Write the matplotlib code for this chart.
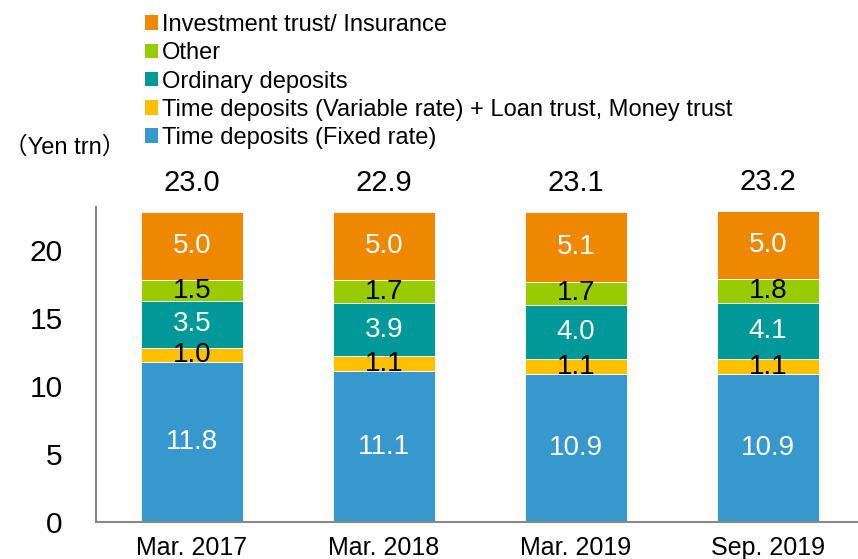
import matplotlib
matplotlib.use("Agg")
import matplotlib.pyplot as plt
from matplotlib.patches import Patch
import numpy as np

plt.rcParams['font.family'] = ['Liberation Sans', 'Noto Sans CJK JP', 'DejaVu Sans']

categories = ["Mar. 2017", "Mar. 2018", "Mar. 2019", "Sep. 2019"]
series_names = [
    "Time deposits (Fixed rate)",
    "Time deposits (Variable rate) + Loan trust, Money trust",
    "Ordinary deposits",
    "Other",
    "Investment trust/ Insurance",
]
fixed_rate = [11.8, 11.1, 10.9, 10.9]
variable_rate = [1.0, 1.1, 1.1, 1.1]
ordinary = [3.5, 3.9, 4.0, 4.1]
other = [1.5, 1.7, 1.7, 1.8]
invest = [5.0, 5.0, 5.1, 5.0]
totals = [23.0, 22.9, 23.1, 23.2]
yticks = [0, 5, 10, 15, 20]

series = [fixed_rate, variable_rate, ordinary, other, invest]
colors = ["#3698CC", "#FFC000", "#009999", "#99CC00", "#EE8800"]
label_colors = ["white", "black", "white", "black", "white"]

fig = plt.figure(figsize=(8.58, 5.59), dpi=100)
ax = fig.add_axes([96/858, 1 - 522/559, 1 - 96/858, (522 - 207)/559])

x = np.arange(len(categories))
bottom = np.zeros(len(categories))
handles = []
for vals, col, lc, name in zip(series, colors, label_colors, series_names):
    v = np.array(vals)
    ax.bar(x, v, bottom=bottom, width=0.53, color=col, edgecolor="white",
           linewidth=0.6)
    for xi, b, h in zip(x, bottom, v):
        ax.text(xi, b + h/2, f"{h:.1f}", ha="center", va="center",
                color=lc, fontsize=20)
    handles.append(Patch(facecolor=col, edgecolor="none", label=name))
    bottom = bottom + v

for xi, top, t in zip(x, bottom, totals):
    ax.annotate(f"{t:.1f}", (xi, top), xytext=(0, 21), textcoords="offset points",
                ha="center", va="center", fontsize=21, annotation_clip=False)

ax.set_xlim(-0.5, 3.47)
ax.set_ylim(0, 23.2)
ax.set_yticks(yticks)
ax.set_xticks(x)
ax.set_xticklabels(categories)
ax.tick_params(axis="y", length=0, pad=24, labelsize=21.5)
ax.tick_params(axis="x", length=0, pad=10, labelsize=18)
for s in ["top", "right"]:
    ax.spines[s].set_visible(False)
for s in ["left", "bottom"]:
    ax.spines[s].set_color("#888888")
    ax.spines[s].set_linewidth(1.5)

fig.legend(handles=handles[::-1], loc="upper left",
           bbox_to_anchor=(145/858, 1 - 14/559), frameon=False,
           fontsize=17, handlelength=0.56, handleheight=0.56,
           handletextpad=0.17, labelspacing=0.265, borderpad=0,
           borderaxespad=0)

fig.text(4/858, 1 - 148/559, "（Yen trn）", fontsize=17, va="center", ha="left")

fig.savefig("out.png", dpi=100)
